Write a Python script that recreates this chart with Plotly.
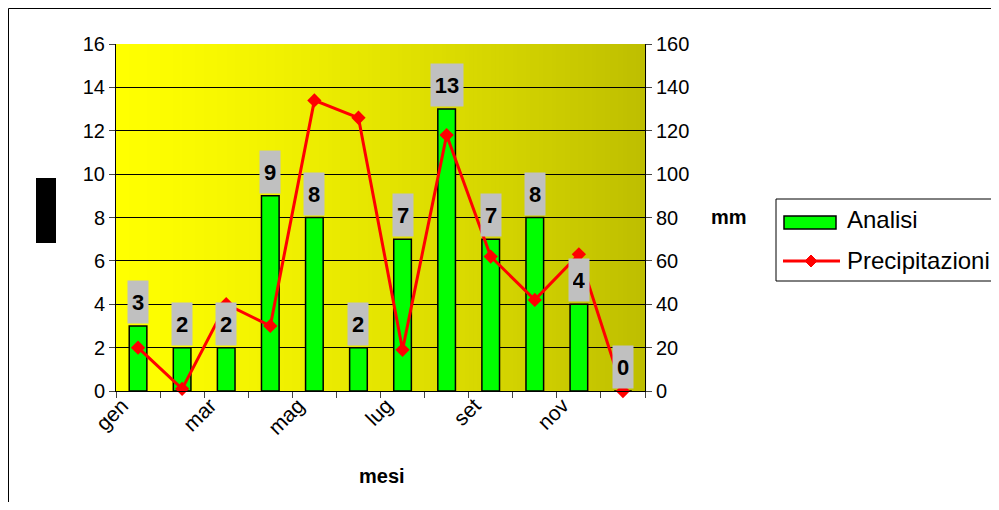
import plotly.graph_objects as go

months = ["gen", "feb", "mar", "apr", "mag", "giu", "lug", "ago", "set", "ott", "nov", "dic"]
tick_labels = ["gen", "", "mar", "", "mag", "", "lug", "", "set", "", "nov", ""]
analisi = [3, 2, 2, 9, 8, 2, 7, 13, 7, 8, 4, 0]
precipitazioni = [20, 1, 40, 30, 134, 126, 19, 118, 62, 42, 63, 0]
series_names = ["Analisi", "Precipitazioni"]

# page body has an 8px margin, so the figure is offset by 8px
W, H = 991, 494
L, R, T = 108, 354, 36
pw, ph = 529, 347
B = H - T - ph

# screen-pixel -> paper helpers (screen plot area x 116..645, y 44..391)
def px(x):
    return (x - 116) / pw

def py(y):
    return (391 - y) / ph

FONT = "Liberation Sans, Arial"

fig = go.Figure()
fig.add_trace(go.Bar(
    x=months, y=analisi, name=series_names[0],
    marker=dict(color="#00FF00", line=dict(color="black", width=1.5)),
    yaxis="y",
))
fig.add_trace(go.Scatter(
    x=months, y=precipitazioni, name=series_names[1], mode="lines+markers",
    line=dict(color="#FF0000", width=3),
    marker=dict(symbol="diamond", size=11, color="#FF0000"),
    yaxis="y2", cliponaxis=False,
))

shapes = []
n = 120
for i in range(n):
    t = (i + 0.5) / n
    f = t ** 1.3
    c = round(255 - (255 - 190) * f)
    shapes.append(dict(type="rect", xref="paper", yref="paper",
                       x0=i / n, x1=(i + 1) / n + 0.002, y0=0, y1=1,
                       fillcolor=f"rgb({c},{c},0)", line=dict(width=0), layer="below"))
# outer frame
shapes.append(dict(type="rect", xref="paper", yref="paper",
                   x0=px(8.5), x1=px(1020), y0=py(8.5), y1=py(530),
                   line=dict(color="black", width=1), fillcolor="rgba(0,0,0,0)"))
# blocked-out y axis title
shapes.append(dict(type="rect", xref="paper", yref="paper",
                   x0=px(36), x1=px(56), y0=py(243), y1=py(178),
                   line=dict(width=0), fillcolor="black"))
# custom legend box
shapes.append(dict(type="rect", xref="paper", yref="paper",
                   x0=px(776), x1=px(1020), y0=py(281), y1=py(199),
                   line=dict(color="black", width=1), fillcolor="white"))
shapes.append(dict(type="rect", xref="paper", yref="paper",
                   x0=px(784), x1=px(836), y0=py(229), y1=py(216),
                   line=dict(color="black", width=1.5), fillcolor="#00FF00"))
shapes.append(dict(type="line", xref="paper", yref="paper",
                   x0=px(783), x1=px(840), y0=py(261), y1=py(261),
                   line=dict(color="#FF0000", width=3)))
cx, cy, d = 811, 261, 6
shapes.append(dict(type="path", xref="paper", yref="paper",
                   path=(f"M {px(cx-d)},{py(cy)} L {px(cx)},{py(cy-d)} "
                         f"L {px(cx+d)},{py(cy)} L {px(cx)},{py(cy+d)} Z"),
                   line=dict(color="#FF0000", width=1), fillcolor="#FF0000"))

annotations = []
for m, v in zip(months, analisi):
    s = str(v)
    annotations.append(dict(
        x=m, y=v, xref="x", yref="y", text=f"<b>{s}</b>", showarrow=False,
        xanchor="center", yanchor="bottom", yshift=2, bgcolor="#C0C0C0",
        width=12 * len(s), height=34, borderpad=4,
        font=dict(family=FONT, size=22, color="black"),
    ))
annotations.append(dict(x=px(729), y=py(217), xref="paper", yref="paper",
                        xanchor="center", yanchor="middle",
                        text="<b>mm</b>", showarrow=False,
                        font=dict(family=FONT, size=20, color="black")))
annotations.append(dict(x=px(382), y=py(476), xref="paper", yref="paper",
                        xanchor="center", yanchor="middle",
                        text="<b>mesi</b>", showarrow=False,
                        font=dict(family=FONT, size=20, color="black")))
for name, yy in zip(series_names, [219, 260]):
    annotations.append(dict(x=px(845), y=py(yy), xref="paper", yref="paper",
                            xanchor="left", yanchor="middle", text=name, showarrow=False,
                            font=dict(family=FONT, size=24, color="black")))

fig.update_layout(
    width=W, height=H,
    margin=dict(l=L, r=R, t=T, b=B),
    paper_bgcolor="white", plot_bgcolor="#FFFF00",
    font=dict(family=FONT, size=18, color="black"),
    bargap=0.6,
    showlegend=False,
    xaxis=dict(type="category", tickvals=months, ticktext=tick_labels,
               range=[-0.5, len(months) - 0.5],
               tickangle=-45, tickson="boundaries", ticks="outside", ticklen=6,
               showline=True, linecolor="black", linewidth=1, showgrid=False,
               tickfont=dict(size=21), ticklabelshift=-16, ticklabelstandoff=-7),
    yaxis=dict(range=[0, 16], dtick=2, ticks="outside", ticklen=6,
               showline=True, linecolor="black", showgrid=True, gridcolor="black",
               gridwidth=1, zeroline=False, tickfont=dict(size=20)),
    yaxis2=dict(range=[0, 160], dtick=20, overlaying="y", side="right",
                ticks="outside", ticklen=6, showline=True, linecolor="black",
                showgrid=False, zeroline=False, tickfont=dict(size=20)),
    shapes=shapes,
    annotations=annotations,
)

fig.write_html("out.html")
